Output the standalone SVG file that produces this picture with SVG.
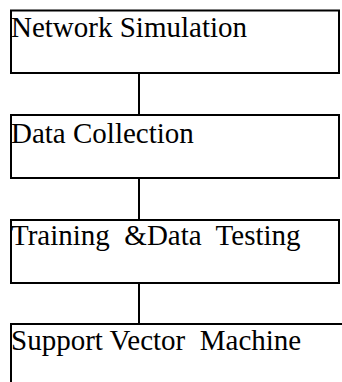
<svg xmlns="http://www.w3.org/2000/svg" width="342" height="382" viewBox="0 0 342 382">
<style>
.box{fill:#fff;stroke:#000;stroke-width:2}
.lbl{font-family:"Liberation Serif","Times New Roman",serif;font-size:29px;fill:#000;white-space:pre}
.con{stroke:#000;stroke-width:2;fill:none}
</style>
<rect width="342" height="382" fill="#fff"/>
<g id="connectors">
<line class="con" x1="139" y1="73" x2="139" y2="115"/>
<line class="con" x1="139" y1="178" x2="139" y2="220"/>
<line class="con" x1="139" y1="283" x2="139" y2="324"/>
</g>
<g id="node1">
<rect class="box" x="11" y="10.5" width="328" height="62.5"/>
<text class="lbl" x="11" y="37">Network Simulation</text>
</g>
<g id="node2">
<rect class="box" x="11" y="115" width="328" height="63"/>
<text class="lbl" x="11" y="143">Data Collection</text>
</g>
<g id="node3">
<rect class="box" x="11" y="220" width="328" height="63"/>
<text class="lbl" x="11" y="245" xml:space="preserve">Training  &amp;Data  Testing</text>
</g>
<g id="node4">
<rect class="box" x="11" y="324" width="340" height="70"/>
<text class="lbl" x="11" y="350" xml:space="preserve">Support Vector  Machine</text>
</g>
</svg>
